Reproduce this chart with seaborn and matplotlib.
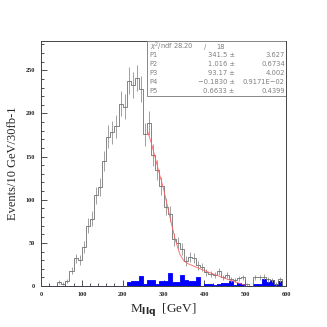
import numpy as np
import pandas as pd
import seaborn as sns
import matplotlib.pyplot as plt

# bin edges: 10 GeV bins from 0 to 600
bin_lo = list(range(0, 600, 10))

# signal+background events per bin
events = [0, 0, 0, 0, 5, 3, 6, 18, 32, 30,
          45, 70, 78, 105, 115, 145, 173, 178, 185, 211,
          208, 238, 233, 241, 228, 176, 189, 152, 134, 116,
          92, 84, 54, 50, 43, 29, 34, 33, 24, 22,
          16, 14, 13, 17, 10, 13, 8, 7, 9, 10,
          2, 0, 10, 10, 11, 8, 7, 3, 8, 0]

# background (blue filled)
bkg = [0, 0, 0, 0, 0, 0, 0, 0, 0, 0,
       0, 0, 0, 0, 0, 0, 0, 0, 0, 0,
       0, 5, 6, 6, 12, 2, 7, 7.5, 2, 6,
       6, 15, 5, 5, 13, 7, 6, 6, 10, 0,
       3, 3, 1, 3, 4, 4, 6, 1, 4, 2,
       0, 0, 3, 2, 8, 5, 7, 2, 6, 0]

# fit curve
fit_x = [260, 270, 280, 290, 300, 310, 320, 330, 340, 350, 360, 400, 450, 500]
fit_y = [181, 166, 148, 130, 113, 92, 71, 52, 37, 29, 26, 18, 9, 1]

stats_names = ['P1', 'P2', 'P3', 'P4', 'P5']
stats_vals = ['341.5', '1.016', '93.17', '\u22120.1830', '0.6633']
stats_errs = ['3.627', '0.6734', '4.002', '0.9171E\u221202', '0.4399']

df = pd.DataFrame({'lo': bin_lo, 'events': events, 'bkg': bkg})
df['center'] = df['lo'] + 5

sns.set_style('ticks')
plt.rcParams['font.family'] = ['Liberation Serif', 'DejaVu Serif']

fig = plt.figure(figsize=(3.27, 3.27), dpi=100)
ax = fig.add_axes([0.125, 0.125, 0.75, 0.75])

ax.errorbar(df['center'], df['events'], yerr=np.sqrt(df['events']), fmt='none',
            ecolor='#a0a0a0', elinewidth=0.7, capsize=0)
sns.histplot(data=df, x='center', weights='events', binwidth=10, binrange=(0, 600),
             element='step', fill=False, color='#707070', linewidth=0.6, ax=ax)
sns.histplot(data=df, x='center', weights='bkg', binwidth=10, binrange=(0, 600),
             element='step', fill=True, color='#0000ff', alpha=1, linewidth=0.6, ax=ax)
sns.lineplot(x=fit_x, y=fit_y, color='#ff6060', linewidth=0.6, ax=ax)

ax.set_xlim(0, 600)
ax.set_ylim(0, 284)
ax.set_xticks(range(0, 700, 100))
ax.set_xticks(range(0, 620, 20), minor=True)
ax.set_yticks(range(0, 300, 50))
ax.set_yticks(range(0, 290, 10), minor=True)
ax.tick_params(which='both', direction='in', top=False, right=False,
               labelsize=4.5, width=0.6, color='#333333', pad=4)
ax.tick_params(which='major', length=4)
ax.tick_params(which='minor', length=2)
for lab in ax.get_xticklabels() + ax.get_yticklabels():
    lab.set_fontweight('bold')
for s in ax.spines.values():
    s.set_color('#444444')
    s.set_linewidth(0.7)

ax.set_xlabel('M$_{\\mathbf{llq}}$  [GeV]', fontsize=9.5, labelpad=3)
ax.set_ylabel('Events/10 GeV/30fb-1', fontsize=9, labelpad=5)

# stats box
bx0 = 0.433
ax.add_patch(plt.Rectangle((bx0, 0.777), 1 - bx0, 0.223, transform=ax.transAxes,
                           fill=True, facecolor='white', edgecolor='#888888',
                           linewidth=0.7, zorder=5))
tkw = dict(transform=ax.transAxes, fontsize=4.9, color='#808080', va='center',
           family=['DejaVu Sans'], zorder=6)
row_h = 0.0365
y0 = 0.977
ax.text(bx0 + 0.01, y0, '$\\chi^2$/ndf 28.20', **tkw)
ax.text(0.665, y0, '/', **tkw)
ax.text(0.715, y0, '18', **tkw)
for i, (n, v, e) in enumerate(zip(stats_names, stats_vals, stats_errs)):
    yy = y0 - (i + 1) * row_h
    ax.text(bx0 + 0.01, yy, n, **tkw)
    ax.text(0.79, yy, v + ' \u00b1', ha='right', **tkw)
    ax.text(0.995, yy, e, ha='right', **tkw)

fig.savefig('out.png', dpi=100)
